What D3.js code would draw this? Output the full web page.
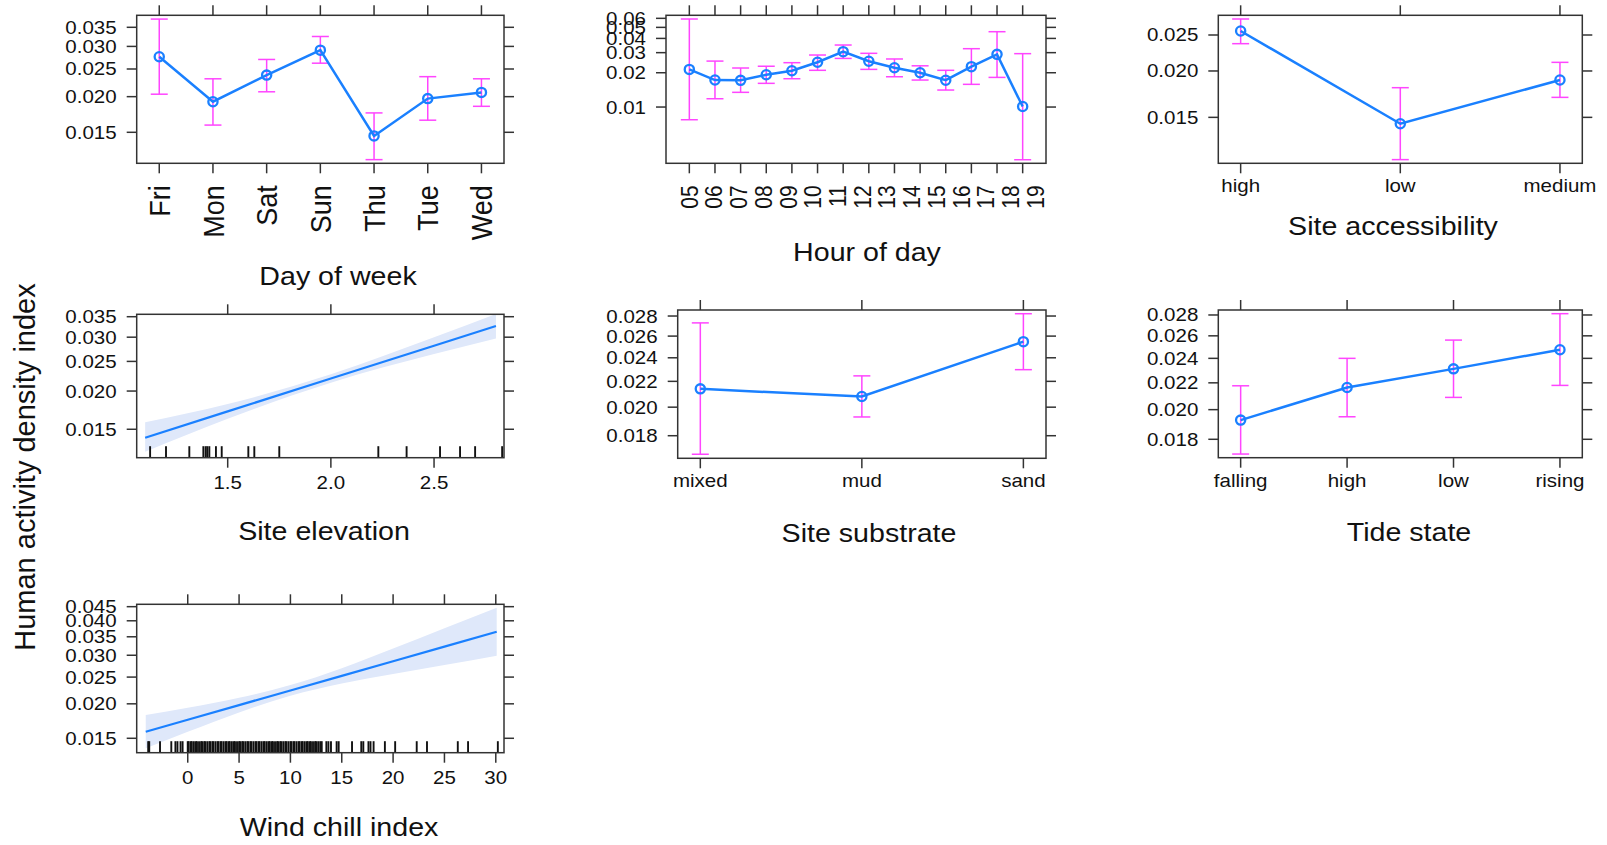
<!DOCTYPE html>
<html>
<head>
<meta charset="utf-8">
<script src="https://cdn.jsdelivr.net/npm/d3@7"></script>
<style>
  body { margin: 0; background: #fff; }
  text { font-family: "Liberation Sans", Arial, sans-serif; fill: #111; }
</style>
</head>
<body>
<script>
// page size
const W = 1607, H = 845;

// ---- data ----
// Day of week
const dayCats = ["Fri", "Mon", "Sat", "Sun", "Thu", "Tue", "Wed"];
const dayFit = [0.0276, 0.0192, 0.0238, 0.0291, 0.01457, 0.01969, 0.0207];
const dayLo = [0.0204, 0.0159, 0.0208, 0.0262, 0.01203, 0.01654, 0.0185];
const dayHi = [0.0374, 0.0231, 0.0270, 0.0325, 0.01754, 0.0235, 0.0231];

// Hour of day (14 estimates, 15 tick labels as in the original)
const hourCats = ["05", "06", "07", "08", "09", "10", "11", "12", "13", "14", "15", "16", "17", "18"];
const hourLabels = ["05", "06", "07", "08", "09", "10", "11", "12", "13", "14", "15", "16", "17", "18", "19"];
const hourFit = [0.0214, 0.01725, 0.01715, 0.0192, 0.0208, 0.0247, 0.0306, 0.0252, 0.0221, 0.0200, 0.0172, 0.0226, 0.0290, 0.0101];
const hourLo = [0.00774, 0.01183, 0.01346, 0.01614, 0.01772, 0.0210, 0.0267, 0.0214, 0.01844, 0.01725, 0.0141, 0.01582, 0.0182, 0.00345];
const hourHi = [0.0592, 0.0253, 0.0220, 0.0228, 0.0245, 0.0286, 0.0350, 0.0296, 0.0264, 0.0230, 0.0210, 0.0325, 0.0458, 0.0294];

// Site accessibility
const accCats = ["high", "low", "medium"];
const accFit = [0.02563, 0.01442, 0.01891];
const accLo = [0.02369, 0.01154, 0.01698];
const accHi = [0.02761, 0.01803, 0.0211];

// Site substrate
const subCats = ["mixed", "mud", "sand"];
const subFit = [0.0214, 0.0208, 0.02547];
const subLo = [0.01681, 0.01929, 0.02297];
const subHi = [0.0273, 0.02245, 0.02824];

// Tide state
const tideCats = ["falling", "high", "low", "rising"];
const tideFit = [0.01927, 0.02164, 0.02312, 0.02475];
const tideLo = [0.01708, 0.0195, 0.02089, 0.0218];
const tideHi = [0.02177, 0.0240, 0.02561, 0.02813];

// Site elevation (fitted line + band)
const elevX = [1.10, 1.5, 2.0, 2.5, 2.80];
const elevFit = [0.01408, 0.01716, 0.02198, 0.02813, 0.03263];
const elevLo = [0.01267, 0.01624, 0.0213, 0.02641, 0.0297];
const elevHi = [0.01581, 0.01813, 0.02268, 0.02996, 0.0357];
const elevRug = [1.124, 1.201, 1.314, 1.382, 1.393, 1.401, 1.411, 1.443, 1.471, 1.600, 1.629, 1.750,
  2.230, 2.367, 2.529, 2.626, 2.699, 2.83];

// Wind chill index
const windX = [-4.09, 0, 5, 10, 15, 20, 25, 30.09];
const windFit = [0.01585, 0.01751, 0.01979, 0.02236, 0.02526, 0.02853, 0.03224, 0.0365];
const windLo = [0.01379, 0.01584, 0.01862, 0.02139, 0.02369, 0.02566, 0.02767, 0.02989];
const windHi = [0.01821, 0.01935, 0.02103, 0.02338, 0.02693, 0.03172, 0.03757, 0.04458];
const windRug = [-3.85, -3.75, -2.7, -1.6, -1.2, -1.0, -0.7, -0.5,
  0.0, 0.1, 0.3, 0.4, 0.6, 0.8, 0.9, 1.1, 1.3, 1.4, 1.6, 1.7, 1.9, 2.1, 2.2, 2.4, 2.5, 2.7, 2.9,
  3.0, 3.2, 3.3, 3.5, 3.7, 3.8, 4.0, 4.1, 4.3, 4.5, 4.6, 4.8, 5.0, 5.1, 5.3, 5.4, 5.6, 5.8, 5.9,
  6.1, 6.2, 6.4, 6.6, 6.7, 6.9, 7.0, 7.2, 7.4, 7.5, 7.7, 7.9, 8.0, 8.2, 8.3, 8.5, 8.7, 8.8, 9.0,
  9.1, 9.3, 9.5, 9.6, 9.8, 10.0, 10.1, 10.3, 10.4, 10.6, 10.8, 10.9, 11.1, 11.2, 11.4, 11.6,
  11.7, 11.9, 12.0, 12.2, 12.4, 12.5, 12.7, 12.9, 13.05, 13.5, 13.7, 13.95, 14.5, 14.7, 16.0,
  16.9, 17.1, 17.6, 17.8, 18.1, 19.2, 20.2, 22.3, 23.3, 26.3, 27.3, 30.2];

// y ticks per panel
const ticks5 = [0.015, 0.020, 0.025, 0.030, 0.035];
const hourTicks = [0.01, 0.02, 0.03, 0.04, 0.05, 0.06];
const accTicks = [0.015, 0.020, 0.025];
const evenTicks = [0.018, 0.020, 0.022, 0.024, 0.026, 0.028];
const windTicks = [0.015, 0.020, 0.025, 0.030, 0.035, 0.040, 0.045];
const elevXTicks = [1.5, 2.0, 2.5];
const windXTicks = [0, 5, 10, 15, 20, 25, 30];

// colours
const lineCol = "#1a80ff";
const ciCol = "#ff45ff";
const bandCol = "#dfe8fa";
const boxCol = "#333";

const svg = d3.select("body").append("svg")
  .attr("width", W)
  .attr("height", H);

// text helper: fonts in the source look a bit wide, so stretch horizontally
function txt(g, x, y, s, size, anchor, sx, rot, dy) {
  return g.append("text")
    .attr("transform", "translate(" + x + "," + y + ") scale(" + sx + ",1) rotate(" + (rot || 0) + ")")
    .attr("text-anchor", anchor)
    .attr("dy", dy || 0)
    .style("font-size", size + "px")
    .text(s);
}

function frame(g, p, y, yTicks, fmt) {
  g.append("rect")
    .attr("x", p.x0).attr("y", p.y0)
    .attr("width", p.x1 - p.x0).attr("height", p.y1 - p.y0)
    .attr("fill", "none").attr("stroke", boxCol).attr("stroke-width", 1.5);
  yTicks.forEach(t => {
    g.append("line").attr("x1", p.x0 - 10).attr("x2", p.x0).attr("y1", y(t)).attr("y2", y(t))
      .attr("stroke", boxCol).attr("stroke-width", 1.5);
    g.append("line").attr("x1", p.x1).attr("x2", p.x1 + 10).attr("y1", y(t)).attr("y2", y(t))
      .attr("stroke", boxCol).attr("stroke-width", 1.5);
    txt(g, p.x0 - 20, y(t), d3.format(fmt)(t), 18, "end", 1.14, 0, "0.36em");
  });
}

function xTickMarks(g, p, xs) {
  xs.forEach(v => {
    g.append("line").attr("x1", v).attr("x2", v).attr("y1", p.y0 - 10).attr("y2", p.y0)
      .attr("stroke", boxCol).attr("stroke-width", 1.5);
    g.append("line").attr("x1", v).attr("x2", v).attr("y1", p.y1).attr("y2", p.y1 + 10)
      .attr("stroke", boxCol).attr("stroke-width", 1.5);
  });
}

// categorical effect panel: points, line, error bars
function catPanel(p, cats, fit, lo, hi, yDom, yTicks, fmt, labelMode) {
  const n = cats.length;
  const x = d3.scaleLinear().domain([-0.07 * (n - 1), 1.07 * (n - 1)]).range([p.x0, p.x1]);
  const y = d3.scaleLog().domain(yDom).range([p.y1, p.y0]);
  const g = svg.append("g");

  frame(g, p, y, yTicks, fmt);
  xTickMarks(g, p, cats.map((c, i) => x(i)));

  if (labelMode == "flat") {
    cats.forEach((c, i) => txt(g, x(i), p.y1 + 29, c, 18, "middle", 1.14));
  }

  // error bars
  cats.forEach((c, i) => {
    const cx = x(i);
    g.append("line").attr("x1", cx).attr("x2", cx).attr("y1", y(lo[i])).attr("y2", y(hi[i]))
      .attr("stroke", ciCol).attr("stroke-width", 1.5);
    [lo[i], hi[i]].forEach(v => {
      g.append("line").attr("x1", cx - 8.5).attr("x2", cx + 8.5).attr("y1", y(v)).attr("y2", y(v))
        .attr("stroke", ciCol).attr("stroke-width", 1.5);
    });
  });

  const line = d3.line().x((d, i) => x(i)).y(d => y(d));
  g.append("path").datum(fit)
    .attr("fill", "none").attr("stroke", lineCol).attr("stroke-width", 2.5)
    .attr("d", line);

  g.selectAll(null).data(fit).enter().append("circle")
    .attr("cx", (d, i) => x(i)).attr("cy", d => y(d)).attr("r", 4.6)
    .attr("fill", "none").attr("stroke", lineCol).attr("stroke-width", 2.3);

  return {g: g, x: x, y: y};
}

// numeric effect panel: fitted line, band and rug
function numPanel(p, xs, fit, lo, hi, rug, xDom, xTicks, yDom, yTicks, id) {
  const x = d3.scaleLinear().domain(xDom).range([p.x0, p.x1]);
  const y = d3.scaleLog().domain(yDom).range([p.y1, p.y0]);
  const g = svg.append("g");

  g.append("clipPath").attr("id", id).append("rect")
    .attr("x", p.x0).attr("y", p.y0).attr("width", p.x1 - p.x0).attr("height", p.y1 - p.y0);

  const pts = xs.map((v, i) => ({x: v, f: fit[i], lo: lo[i], hi: hi[i]}));
  const band = d3.area().x(d => x(d.x)).y0(d => y(d.lo)).y1(d => y(d.hi)).curve(d3.curveMonotoneX);
  g.append("path").datum(pts)
    .attr("clip-path", "url(#" + id + ")")
    .attr("fill", bandCol).attr("d", band);

  g.append("path").datum(pts)
    .attr("fill", "none").attr("stroke", lineCol).attr("stroke-width", 2.2)
    .attr("d", d3.line().x(d => x(d.x)).y(d => y(d.f)));

  g.selectAll(null).data(rug).enter().append("line")
    .attr("x1", d => x(d)).attr("x2", d => x(d))
    .attr("y1", p.y1 - 11.5).attr("y2", p.y1)
    .attr("stroke", "#111").attr("stroke-width", 1.9);

  frame(g, p, y, yTicks, ".3f");
  xTickMarks(g, p, xTicks.map(v => x(v)));
  xTicks.forEach(v => txt(g, x(v), p.y1 + 31, d3.format(Number.isInteger(v) && xTicks.length > 3 ? "d" : ".1f")(v), 18, "middle", 1.14));
  return {g: g, x: x, y: y};
}

// ---- panels ----
const p1 = {x0: 136.7, x1: 504, y0: 15.3, y1: 163.3};
const p2 = {x0: 666, x1: 1046, y0: 15.3, y1: 163.3};
const p3 = {x0: 1218.3, x1: 1582.3, y0: 15.3, y1: 163.3};
const p4 = {x0: 136.7, x1: 504, y0: 314.3, y1: 457.7};
const p5 = {x0: 677.7, x1: 1046, y0: 310, y1: 458.3};
const p6 = {x0: 1218.3, x1: 1582.3, y0: 310, y1: 457.7};
const p7 = {x0: 136.7, x1: 504, y0: 604.3, y1: 752.7};

const day = catPanel(p1, dayCats, dayFit, dayLo, dayHi, [0.01168, 0.03856], ticks5, ".3f", "rot");
dayCats.forEach((c, i) => txt(day.g, day.x(i), p1.y1 + 22, c, 27, "end", 1.1, -90, "0.36em"));

const hour = catPanel(p2, hourCats, hourFit, hourLo, hourHi, [0.00321, 0.0638], hourTicks, ".2f", "rot");
// the source spaces its 15 hour labels slightly tighter than the 14 ticks
const hourLab = d3.scaleLinear().domain([0, hourLabels.length - 1]).range([hour.x(0), hour.x(13.5)]);
hourLabels.forEach((c, i) => txt(hour.g, hourLab(i), p2.y1 + 22, c, 21, "end", 1.1, -90, "0.36em"));

catPanel(p3, accCats, accFit, accLo, accHi, [0.01128, 0.02825], accTicks, ".3f", "flat");
numPanel(p4, elevX, elevFit, elevLo, elevHi, elevRug, [1.059, 2.839], elevXTicks, [0.01211, 0.03564], ticks5, "clipElev");
catPanel(p5, subCats, subFit, subLo, subHi, [0.01656, 0.02863], evenTicks, ".3f", "flat");
catPanel(p6, tideCats, tideFit, tideLo, tideHi, [0.01686, 0.0285], evenTicks, ".3f", "flat");
numPanel(p7, windX, windFit, windLo, windHi, windRug, [-4.97, 30.8], windXTicks, [0.0133, 0.0459], windTicks, "clipWind");

// ---- axis titles ----
const titles = [
  ["Day of week", 338, 285],
  ["Hour of day", 867, 261],
  ["Site accessibility", 1393, 235],
  ["Site elevation", 324, 540],
  ["Site substrate", 869, 542],
  ["Tide state", 1409, 541],
  ["Wind chill index", 339, 836]
];
titles.forEach(t => txt(svg, t[1], t[2], t[0], 26, "middle", 1.1));

txt(svg, 35, 467, "Human activity density index", 29, "middle", 1.0, -90);
</script>
</body>
</html>
